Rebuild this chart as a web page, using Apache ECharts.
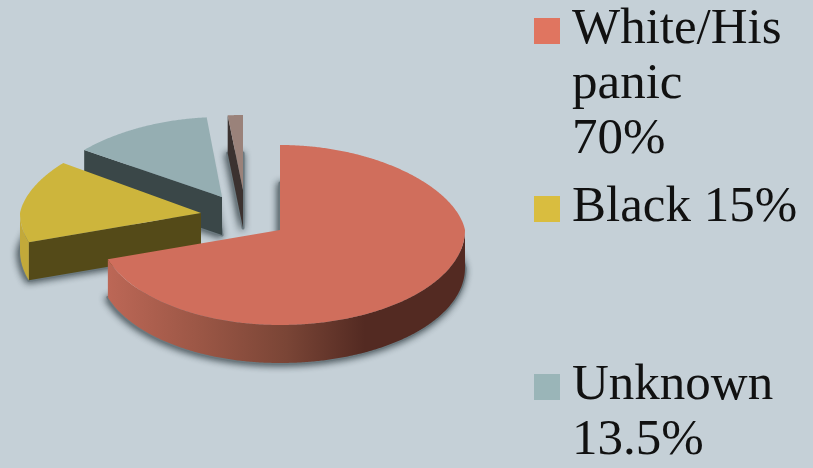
<!DOCTYPE html>
<html><head><meta charset="utf-8">
<style>html,body{margin:0;padding:0;background:#c5d0d7}#c{width:813px;height:468px}</style>
<script src="https://cdn.jsdelivr.net/npm/echarts@6/dist/echarts.min.js"></script>
</head><body><div id="c"></div>
<script>
// Data
const categories = ['White/Hispanic', 'Black', 'Unknown', 'Other'];
const values = [70, 15, 13.5, 1.5];
const legendLines = [['White/His', 'panic', '70%'], ['Black 15%'], [], ['Unknown', '13.5%']];
const legendOrder = [0, 1, null, 2];
// Styles, one per slice
const topColors = ['#d06e5c', '#cdb53c', '#95aeb2', '#9a827a'];
const swatchColors = ['#e07560', '#d9bd3f', '#9ab5b8', '#9a827a'];
const cutColors = ['#532a22', '#544a18', '#3a4748', '#3b3230'];
const arcColors = [null, '#c2a93a', '#6f8488', '#6b5a55'];
const apexes = [[280, 230], [201, 213], [222, 197], [243, 190]];
const ryUps = [85, 85, 80, 75];
const RX_RIGHT = 185, RX_LEFT = 181, RY_DOWN = 95, DEPTH = 38, PERSP = 0.1;

const total = values.reduce((a, b) => a + b, 0);
const D = Math.PI / 180;
function pt(i, t, dz) {
  const s = Math.sin(t), c = Math.cos(t);
  const f = 1 - PERSP * Math.max(s, 0);
  return [apexes[i][0] + (c > 0 ? RX_RIGHT : RX_LEFT) * c * f, apexes[i][1] - (s > 0 ? ryUps[i] : RY_DOWN) * s + (dz || 0)];
}
function arc(i, a, b, dz) {
  const out = [], n = Math.max(2, Math.ceil(Math.abs(a - b) / (0.5 * D)));
  for (let k = 0; k <= n; k++) out.push(pt(i, a + (b - a) * k / n, dz));
  return out;
}
function renderSlice(i, api) {
  let before = 0;
  for (let k = 0; k < i; k++) before += values[k];
  const a = (90 - before / total * 360) * D;
  const b = a - api.value(0) / total * 360 * D;
  const ap = apexes[i];
  const apBottom = [ap[0], ap[1] + DEPTH];
  const kids = [];
  // cast shadow of the bottom face
  kids.push({
    type: 'polygon',
    shape: { points: [apBottom].concat(arc(i, a, b, DEPTH)) },
    style: { fill: '#5f6d73', stroke: '#6b797f', lineWidth: 3, lineJoin: 'round', shadowBlur: 7, shadowColor: 'rgba(50,62,68,0.9)', shadowOffsetX: -1, shadowOffsetY: 1 }
  });
  // cut faces turned towards the viewer
  [a, b].forEach((t, idx) => {
    const visible = idx === 0 ? Math.cos(t) < -0.01 : Math.cos(t) > 0.01;
    if (visible) {
      const o = pt(i, t, 0);
      kids.push({
        type: 'polygon',
        shape: { points: [ap, o, [o[0], o[1] + DEPTH], apBottom] },
        style: { fill: cutColors[i] }
      });
    }
  });
  // outer rim, the part facing the viewer
  const lo = Math.max(b, -Math.PI * 3), segs = [];
  for (let m = -1; m >= -3; m -= 2) {
    const s0 = Math.min(a, (m + 1) * Math.PI), s1 = Math.max(lo, m * Math.PI);
    if (s0 > s1) segs.push([s0, s1]);
  }
  segs.forEach(([s0, s1]) => {
    const up = arc(i, s0, s1, 0), down = arc(i, s1, s0, DEPTH);
    const fill = i === 0 ? {
      type: 'linear', x: 0, y: 0, x2: 1, y2: 0,
      colorStops: [
        { offset: 0, color: '#bc6756' }, { offset: 0.25, color: '#9c5746' },
        { offset: 0.5, color: '#7a4536' }, { offset: 0.72, color: '#532a22' },
        { offset: 1, color: '#532a22' }
      ]
    } : arcColors[i];
    kids.push({ type: 'polygon', shape: { points: up.concat(down) }, style: { fill } });
  });
  // top face
  kids.push({
    type: 'polygon',
    shape: { points: [ap].concat(arc(i, a, b, 0)) },
    style: { fill: topColors[i] }
  });
  return { type: 'group', children: kids };
}

// Paint order: back slices first
const paintOrder = [2, 3, 1, 0];
const series = paintOrder.map((i, z) => ({
  type: 'custom', name: categories[i], coordinateSystem: 'none', silent: true,
  z: z + 2, animation: false, clip: false,
  itemStyle: { color: topColors[i] },
  renderItem: (p, api) => renderSlice(i, api),
  data: [[values[i]]]
}));

// Legend
const LEG_X = 534, TXT_X = 572, LINE = 55, ASCENT = 41;
const legendBaselines = [45, 223, null, 401];
const graphic = [];
legendOrder.forEach((si, row) => {
  if (si === null) return;
  const base = legendBaselines[row];
  graphic.push({
    type: 'rect', x: LEG_X, y: base - 27,
    shape: { width: 26, height: 26 }, style: { fill: swatchColors[si] }
  });
  legendLines[row].forEach((txt, li) => {
    graphic.push({
      type: 'text', x: TXT_X, y: base + li * LINE - ASCENT,
      style: { text: txt, fill: '#111', font: '51px "Liberation Serif"' }
    });
  });
});

const chart = echarts.init(document.getElementById('c'), null, { renderer: 'canvas' });
chart.setOption({ backgroundColor: '#c5d0d7', animation: false, series, graphic });
</script></body></html>
